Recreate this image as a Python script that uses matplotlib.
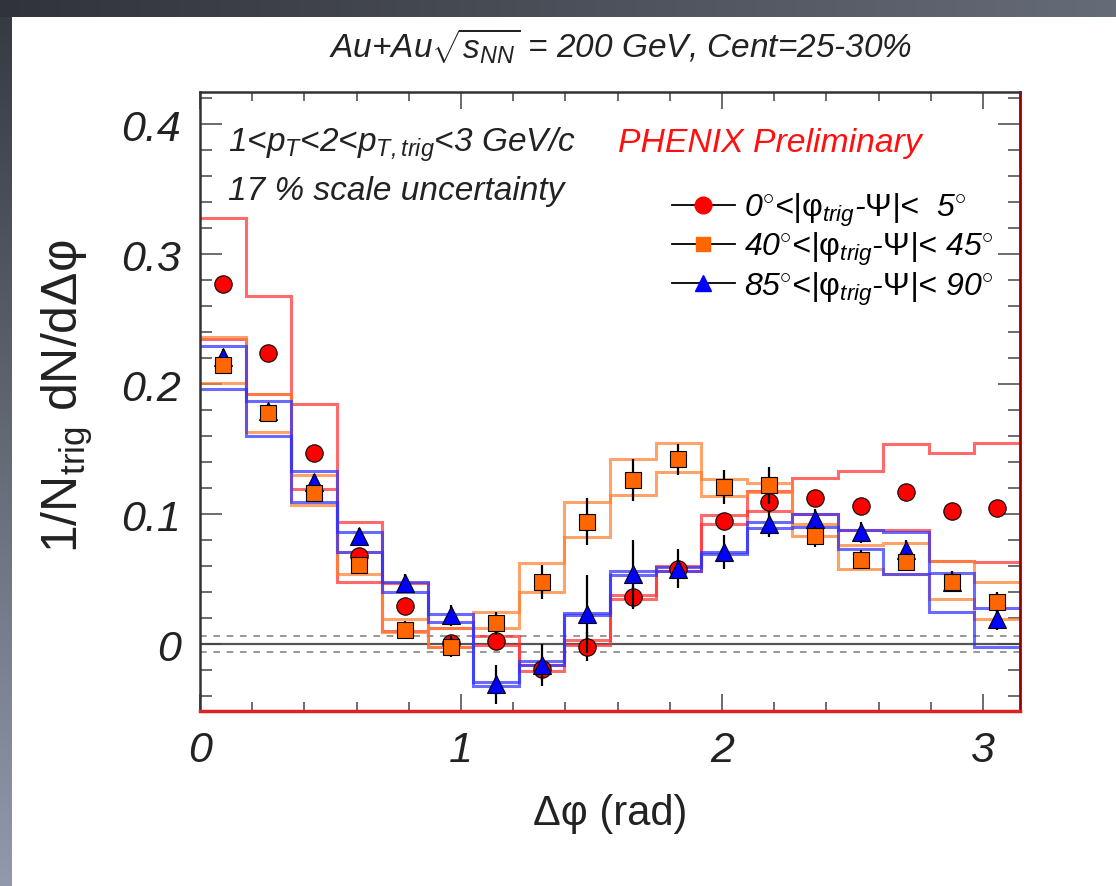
import numpy as np
import matplotlib.pyplot as plt
from matplotlib.lines import Line2D
from matplotlib.ticker import MultipleLocator

plt.rcParams['font.family'] = ['Liberation Sans', 'DejaVu Sans']
plt.rcParams['mathtext.fontset'] = 'custom'
plt.rcParams['mathtext.rm'] = 'Liberation Sans:italic'
plt.rcParams['mathtext.it'] = 'Liberation Sans:italic'
plt.rcParams['mathtext.sf'] = 'Liberation Sans'

# 18 bins over 0..pi
edges = np.linspace(0, np.pi, 19)
centers = 0.5 * (edges[:-1] + edges[1:])

# 0 < |phi_trig - Psi| < 5 deg
red_y = [0.277, 0.224, 0.147, 0.068, 0.029, 0.001, 0.002, -0.019, -0.002, 0.036, 0.058, 0.095,
         0.109, 0.112, 0.106, 0.117, 0.102, 0.105]
red_err = [0.005, 0.005, 0.005, 0.005, 0.006, 0.006, 0.006, 0.009, 0.011, 0.009, 0.007, 0.006,
           0.006, 0.005, 0.005, 0.005, 0.005, 0.005]
red_hi = [0.328, 0.268, 0.185, 0.094, 0.047, 0.012, 0.006, -0.016, 0.003, 0.038, 0.060, 0.099,
          0.118, 0.128, 0.133, 0.154, 0.147, 0.155]
red_lo = [0.235, 0.192, 0.119, 0.048, 0.010, -0.002, -0.001, -0.021, -0.001, 0.035, 0.056, 0.092,
          0.102, 0.100, 0.088, 0.088, 0.064, 0.063]

# 40 < |phi_trig - Psi| < 45 deg
orange_y = [0.215, 0.178, 0.116, 0.061, 0.011, -0.002, 0.016, 0.048, 0.094, 0.126, 0.142, 0.121,
            0.122, 0.083, 0.065, 0.063, 0.048, 0.032]
orange_err = [0.006, 0.006, 0.006, 0.006, 0.007, 0.008, 0.009, 0.013, 0.018, 0.016, 0.012, 0.013,
              0.014, 0.008, 0.007, 0.007, 0.007, 0.008]
orange_hi = [0.236, 0.192, 0.130, 0.071, 0.019, 0.012, 0.025, 0.062, 0.109, 0.142, 0.155, 0.127,
             0.124, 0.092, 0.076, 0.078, 0.064, 0.048]
orange_lo = [0.201, 0.163, 0.107, 0.054, 0.009, -0.002, 0.012, 0.040, 0.082, 0.115, 0.132, 0.114,
             0.117, 0.083, 0.058, 0.054, 0.035, 0.019]

# 85 < |phi_trig - Psi| < 90 deg
blue_y = [0.221, 0.179, 0.125, 0.083, 0.047, 0.022, -0.031, -0.016, 0.023, 0.054, 0.058, 0.071,
          0.092, 0.096, 0.086, 0.072, 0.048, 0.019]
blue_err = [0.006, 0.006, 0.006, 0.006, 0.007, 0.008, 0.015, 0.016, 0.030, 0.026, 0.015, 0.013,
            0.010, 0.008, 0.008, 0.008, 0.008, 0.008]
blue_hi = [0.229, 0.187, 0.133, 0.086, 0.048, 0.023, -0.029, -0.013, 0.024, 0.056, 0.059, 0.071,
           0.094, 0.100, 0.088, 0.086, 0.055, 0.028]
blue_lo = [0.196, 0.160, 0.109, 0.071, 0.040, 0.017, -0.032, -0.016, 0.022, 0.053, 0.056, 0.069,
           0.089, 0.090, 0.073, 0.054, 0.025, -0.002]

labels = ['0$^{\\circ}$<|$\\mathsf{φ}_{trig}$-$\\mathsf{Ψ}$|<  5$^{\\circ}$',
          '40$^{\\circ}$<|$\\mathsf{φ}_{trig}$-$\\mathsf{Ψ}$|< 45$^{\\circ}$',
          '85$^{\\circ}$<|$\\mathsf{φ}_{trig}$-$\\mathsf{Ψ}$|< 90$^{\\circ}$']
yticks = [0, 0.1, 0.2, 0.3, 0.4]
ytick_labels = ['0', '0.1', '0.2', '0.3', '0.4']
xticks = [0, 1, 2, 3]

fig = plt.figure(figsize=(11.16, 8.87), dpi=100)

# slide background border (dark strip on top and left)
bg = fig.add_axes([0, 0, 1, 1])
bg.set_axis_off()
yy, xx = np.mgrid[0:887, 0:1116]
shade = np.where(yy < 18, 0.20 + 0.22 * xx / 1116, 0.22 + 0.38 * yy / 887)
img = np.stack([shade * 0.95, shade * 1.0, shade * 1.12], axis=-1).clip(0, 1)
inside = (xx >= 12) & (yy >= 18)
img[inside] = 1.0
bg.imshow(img, aspect='auto', extent=(0, 1116, 887, 0))
bg.set_zorder(-10)

ax = fig.add_axes([0.1792, 0.1973, 0.7348, 0.6978])
ax.set_facecolor('white')

# zero line and zero-level uncertainty
ax.axhline(0, color='#555555', lw=1.6, zorder=1)
ax.axhline(0.006, color='#888888', lw=1.2, ls=(0, (4, 4)), zorder=1)
ax.axhline(-0.006, color='#888888', lw=1.2, ls=(0, (4, 4)), zorder=1)

# systematic bands from flow subtraction
for hi, lo, c in [(red_hi, red_lo, '#ff3030'), (orange_hi, orange_lo, '#ff8030'),
                  (blue_hi, blue_lo, '#3030ff')]:
    ax.stairs(hi, edges, baseline=None, color=c, lw=2.2, alpha=0.72, zorder=2)
    ax.stairs(lo, edges, baseline=None, color=c, lw=2.2, alpha=0.72, zorder=2)

ax.errorbar(centers, red_y, yerr=red_err, fmt='o', ms=12.5, mfc='#ff0000', mec='black', mew=0.8,
            ecolor='black', elinewidth=1.6, capsize=0, zorder=5)
ax.errorbar(centers, blue_y, yerr=blue_err, fmt='^', ms=13, mfc='#0000ff', mec='black', mew=0.8,
            ecolor='black', elinewidth=1.6, capsize=0, zorder=6)
ax.errorbar(centers, orange_y, yerr=orange_err, fmt='s', ms=11, mfc='#ff6600', mec='black',
            mew=0.8, ecolor='black', elinewidth=1.6, capsize=0, zorder=7)

ax.set_xlim(0, np.pi)
ax.set_ylim(-0.0515, 0.4246)
ax.set_xticks(xticks)
ax.set_yticks(yticks, labels=ytick_labels)
ax.xaxis.set_minor_locator(MultipleLocator(0.2))
ax.yaxis.set_minor_locator(MultipleLocator(0.02))
ax.tick_params(which='both', direction='in', top=True, right=True, color='#444444', width=1.1,
               labelsize=31, labelcolor='#222222')
ax.tick_params(axis='y', which='major', length=16, pad=14)
ax.tick_params(axis='y', which='minor', length=8.5)
ax.tick_params(axis='x', which='major', length=12, pad=14)
ax.tick_params(axis='x', which='minor', length=6.5)
for lab in ax.get_xticklabels() + ax.get_yticklabels():
    lab.set_fontstyle('italic')
for side in ['left', 'top']:
    ax.spines[side].set_color('#333333')
    ax.spines[side].set_linewidth(1.8)
ax.spines['bottom'].set_color('#dd2222')
ax.spines['bottom'].set_linewidth(2.5)
ax.spines['right'].set_color('#990000')
ax.spines['right'].set_linewidth(2.0)

ax.set_xlabel('Δφ (rad)', fontsize=30, color='#222222')
ax.xaxis.set_label_coords(0.5, -0.132)
ax.set_ylabel('1/N$_{\\mathsf{trig}}$ dN/dΔφ', fontsize=36, color='#222222')
ax.yaxis.set_label_coords(-0.128, 0.51)

ax.text(0.034, 0.905, '1<$p_{T}$<2<$p_{T,trig}$<3 GeV/c', transform=ax.transAxes,
        fontsize=24, style='italic', va='baseline', color='#222222')
ax.text(0.034, 0.827, '17 % scale uncertainty', transform=ax.transAxes,
        fontsize=24, style='italic', va='baseline', color='#222222')
ax.text(0.510, 0.905, 'PHENIX Preliminary', transform=ax.transAxes,
        fontsize=24.3, style='italic', va='baseline', color='#ff1010')

fig.text(0.556, 0.935, 'Au+Au$\\sqrt{s_{NN}}$ = 200 GeV, Cent=25-30%', ha='center',
         va='baseline', fontsize=24, style='italic', color='#222222')

handles = [Line2D([], [], color='black', lw=1.3, marker='o', ms=12, mfc='#ff0000', mec='#ff0000'),
           Line2D([], [], color='black', lw=1.3, marker='s', ms=10, mfc='#ff6600', mec='#ff6600'),
           Line2D([], [], color='black', lw=1.3, marker='^', ms=12, mfc='#0000ff', mec='#0000ff')]
ax.legend(handles, labels, loc='upper left', bbox_to_anchor=(0.576, 0.84), frameon=False,
          prop={'style': 'italic', 'size': 23}, handlelength=1.95, handletextpad=0.3,
          borderpad=0, borderaxespad=0, labelspacing=0.06)

fig.savefig('out.png', dpi=100)
